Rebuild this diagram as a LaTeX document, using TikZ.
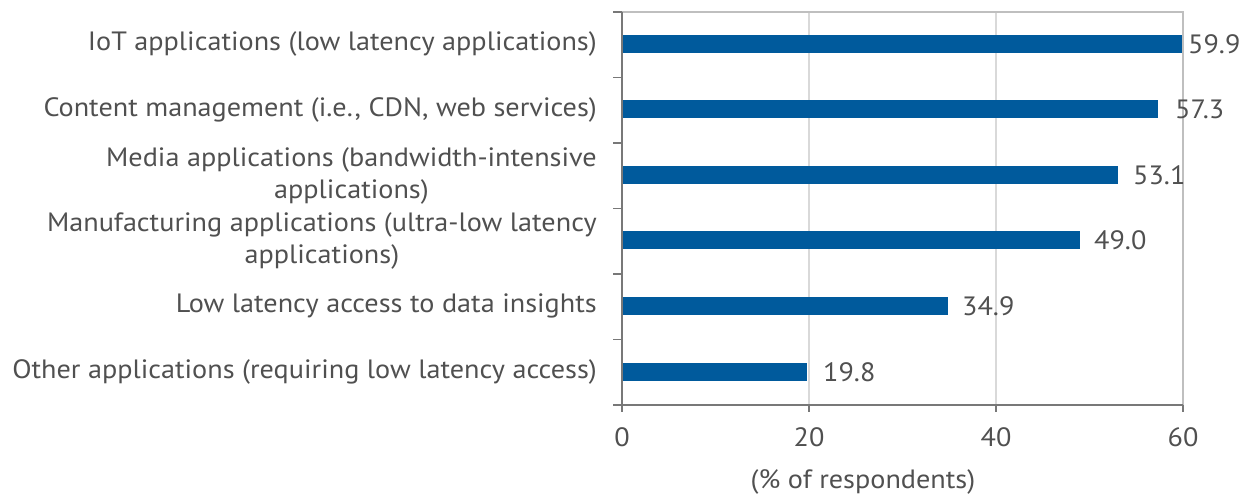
\documentclass[tikz,border=0pt]{standalone}
\usepackage{fontspec}
\setmainfont{PT Sans}[FakeStretch=1.065]
\definecolor{barblue}{RGB}{0,90,156}
\definecolor{txt}{RGB}{80,80,80}
\definecolor{axisgray}{RGB}{120,120,120}
\definecolor{framegray}{RGB}{191,191,191}
\definecolor{gridgray}{RGB}{217,217,217}
\begin{document}
\begin{tikzpicture}[x=1pt,y=-1pt,
  lbl/.style={text=txt,font=\fontsize{26.5}{32}\selectfont,inner sep=0pt},
  cat/.style={lbl,anchor=east,align=center},
  val/.style={lbl,anchor=west},
  bar/.style={fill=barblue,draw=none},
  axisline/.style={draw=axisgray,line width=1.6pt},
  frameline/.style={draw=framegray,line width=1.6pt},
  gridline/.style={draw=gridgray,line width=1.3pt}]
\useasboundingbox (0,0) rectangle (1248,497);
% grid and frame
\foreach \v in {20,40} \draw[gridline] ({622+\v*9.35},12) -- ({622+\v*9.35},405);
\draw[frameline] (622,12) -- (1183,12) -- (1183,405);
% bars
\foreach \val/\yc/\nm in {59.9/44/b1,57.3/109.5/b2,53.1/175/b3,49.0/240.5/b4,34.9/306/b5,19.8/372/b6}
  \path[bar] (622,\yc-9) rectangle ({622+\val*9.35},\yc+9);
% axes
\draw[axisline] (622,12) -- (622,405);
\draw[axisline] (613,405) -- (1183,405);
\foreach \yy in {12,77.5,143,208.5,274,339.5} \draw[axisline] (613,\yy) -- (622,\yy);
\foreach \v in {0,20,40,60} \draw[axisline] ({622+\v*9.35},405) -- ({622+\v*9.35},412);
% value labels
\node[val] (v1) at (1188,44) {59.9};
\node[val] (v2) at (1175,109.5) {57.3};
\node[val] (v3) at (1133,175) {53.1};
\node[val] (v4) at (1094,240.5) {49.0};
\node[val] (v5) at (962,306) {34.9};
\node[val] (v6) at (823,372) {19.8};
% category labels
\node[cat] (c1) at (597,44) {IoT applications (low latency applications)};
\node[cat] (c2) at (597,109.5) {Content management (i.e., CDN, web services)};
\node[cat] (c3) at (597,176) {Media applications (bandwidth-intensive\\applications)};
\node[cat] (c4) at (597,241) {Manufacturing applications (ultra-low latency\\applications)};
\node[cat] (c5) at (597,306) {Low latency access to data insights};
\node[cat] (c6) at (597,372) {Other applications (requiring low latency access)};
% tick labels
\foreach \v in {0,20,40,60} \node[lbl] (t\v) at ({622+\v*9.35},437) {\v};
\node[lbl] (xt) at (863,482) {(\% of respondents)};
\end{tikzpicture}
\end{document}
